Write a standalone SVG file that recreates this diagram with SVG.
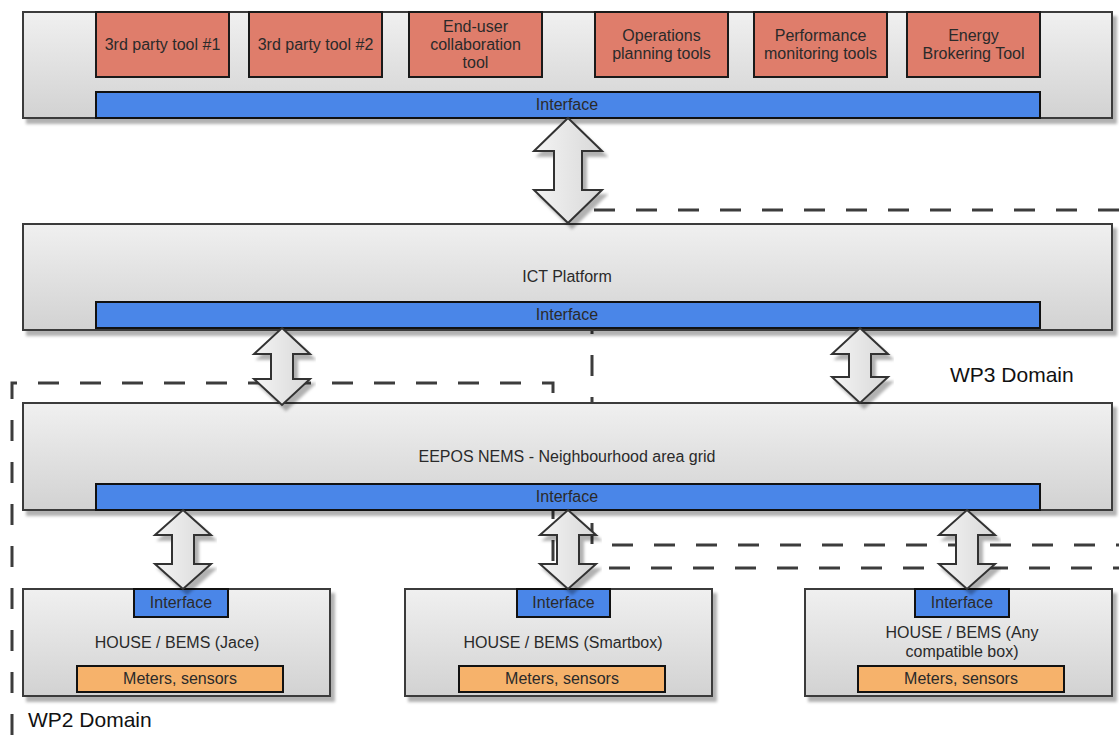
<svg xmlns="http://www.w3.org/2000/svg" width="1119" height="735" viewBox="0 0 1119 735">
<defs>
<linearGradient id="gBox" x1="0" y1="0" x2="0" y2="1">
<stop offset="0" stop-color="#f0f0f0"/>
<stop offset="1" stop-color="#d2d2d2"/>
</linearGradient>
<linearGradient id="gArrow" x1="0" y1="0" x2="1" y2="0">
<stop offset="0" stop-color="#f4f4f4"/>
<stop offset="1" stop-color="#d8d8d8"/>
</linearGradient>
<filter id="sh" x="-5%" y="-10%" width="115%" height="130%">
<feDropShadow dx="4" dy="5" stdDeviation="1.5" flood-color="#000" flood-opacity="0.3"/>
</filter>
</defs>
<style>
.box{fill:url(#gBox);stroke:#3a3a3a;stroke-width:2;filter:url(#sh)}
.tool{fill:#df7d6b;stroke:#1a1a1a;stroke-width:2}
.intf{fill:#4a86e8;stroke:#111;stroke-width:2}
.meter{fill:#f6b26b;stroke:#111;stroke-width:2}
.arr{fill:url(#gArrow);stroke:#333;stroke-width:2;stroke-linejoin:miter;filter:url(#sh)}
.dash{fill:none;stroke:#3c3c3c;stroke-width:3;stroke-dasharray:21 21}
text{font-family:"Liberation Sans",Arial,sans-serif;font-size:16px;fill:#2a2a2a;text-anchor:middle}
.dom{font-size:21px;text-anchor:start;fill:#111}
</style>
<rect width="1119" height="735" fill="#fff"/>
<g id="domains">
<path class="dash" d="M1119,210 H592 V545 H1119"/>
<path class="dash" d="M12,735 V383 H553 V568 H1119"/>
</g>
<g id="tools-layer">
<rect class="box" x="23" y="12" width="1089" height="106"/>
<g id="tool1"><rect class="tool" x="96" y="12" width="133" height="65"/><text x="162.5" y="50">3rd party tool #1</text></g>
<g id="tool2"><rect class="tool" x="249" y="12" width="133" height="65"/><text x="315.5" y="50">3rd party tool #2</text></g>
<g id="tool3"><rect class="tool" x="409" y="12" width="133" height="65"/><text x="475.5" y="32">End-user</text><text x="475.5" y="50">collaboration</text><text x="475.5" y="68">tool</text></g>
<g id="tool4"><rect class="tool" x="595" y="12" width="133" height="65"/><text x="661.5" y="41">Operations</text><text x="661.5" y="59">planning tools</text></g>
<g id="tool5"><rect class="tool" x="754" y="12" width="133" height="65"/><text x="820.5" y="41">Performance</text><text x="820.5" y="59">monitoring tools</text></g>
<g id="tool6"><rect class="tool" x="907" y="12" width="133" height="65"/><text x="973.5" y="41">Energy</text><text x="973.5" y="59">Brokering Tool</text></g>
<g id="intf-top"><rect class="intf" x="96" y="92" width="944" height="26"/><text x="567" y="110">Interface</text></g>
</g>
<g id="ict">
<rect class="box" x="23" y="224" width="1089" height="106"/>
<text x="567" y="282">ICT Platform</text>
<rect class="intf" x="96" y="302" width="944" height="26"/><text x="567" y="320">Interface</text>
</g>
<g id="eepos">
<rect class="box" x="23" y="403" width="1089" height="107"/>
<text x="567" y="462">EEPOS NEMS - Neighbourhood area grid</text>
<rect class="intf" x="96" y="484" width="944" height="26"/><text x="567" y="502">Interface</text>
</g>
<g id="house1">
<rect class="box" x="23" y="589" width="307" height="107"/>
<rect class="intf" x="134" y="589" width="94" height="28"/><text x="181" y="608">Interface</text>
<text x="177" y="648">HOUSE / BEMS (Jace)</text>
<rect class="meter" x="77" y="666" width="206" height="26"/><text x="180" y="684">Meters, sensors</text>
</g>
<g id="house2">
<rect class="box" x="405" y="589" width="307" height="107"/>
<rect class="intf" x="517" y="589" width="93" height="28"/><text x="563.5" y="608">Interface</text>
<text x="563" y="648">HOUSE / BEMS (Smartbox)</text>
<rect class="meter" x="459" y="666" width="206" height="26"/><text x="562" y="684">Meters, sensors</text>
</g>
<g id="house3">
<rect class="box" x="805" y="589" width="307" height="107"/>
<rect class="intf" x="915" y="589" width="94" height="28"/><text x="962" y="608">Interface</text>
<text x="962" y="638">HOUSE / BEMS (Any</text>
<text x="962" y="657">compatible box)</text>
<rect class="meter" x="858" y="666" width="206" height="26"/><text x="961" y="684">Meters, sensors</text>
</g>
<g id="connectors">
<path class="arr" d="M568,118 L602,151 L582,151 L582,190 L602,190 L568,223 L534,190 L554,190 L554,151 L534,151 Z"/>
<path class="arr" d="M282,328 L310,354 L293,354 L293,379 L310,379 L282,405 L254,379 L271,379 L271,354 L254,354 Z"/>
<path class="arr" d="M860,328 L888,354 L871,354 L871,377 L888,377 L860,403 L832,377 L849,377 L849,354 L832,354 Z"/>
<path class="arr" d="M183,510 L211,535 L194,535 L194,564 L211,564 L183,589 L155,564 L172,564 L172,535 L155,535 Z"/>
<path class="arr" d="M568,510 L596,535 L579,535 L579,564 L596,564 L568,589 L540,564 L557,564 L557,535 L540,535 Z"/>
<path class="arr" d="M967,510 L995,535 L978,535 L978,564 L995,564 L967,589 L939,564 L956,564 L956,535 L939,535 Z"/>
</g>
<g id="labels">
<text class="dom" x="950" y="382">WP3 Domain</text>
<text class="dom" x="28" y="727">WP2 Domain</text>
</g>
</svg>
